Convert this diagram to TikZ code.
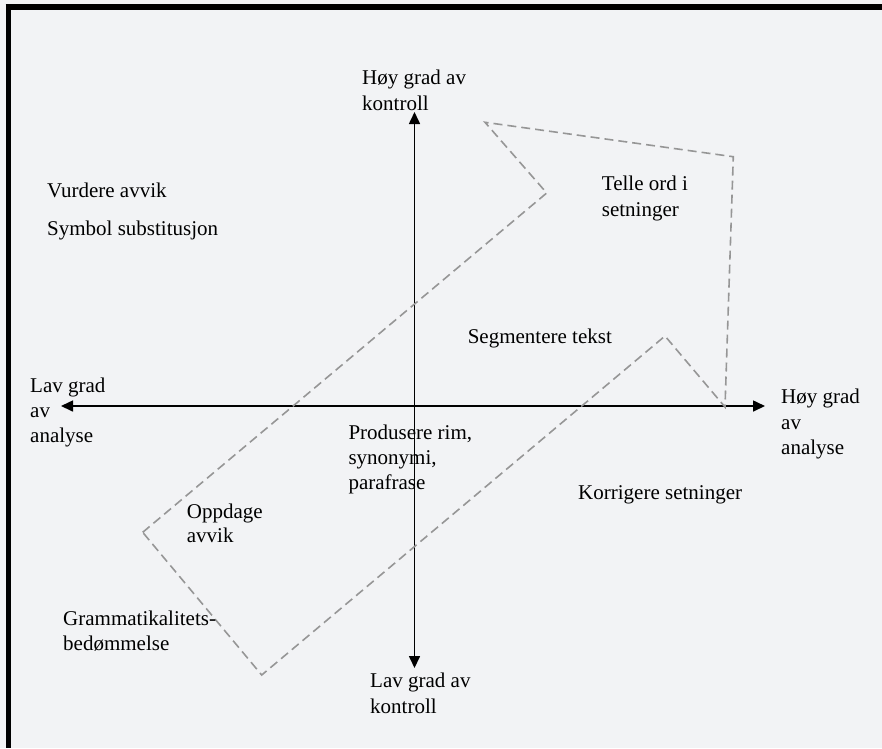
\documentclass[tikz,border=0pt]{standalone}
\usepackage{fontspec}
\setmainfont{Liberation Serif}
\usetikzlibrary{arrows.meta}
\definecolor{bgc}{RGB}{242,243,245}
\definecolor{dashc}{RGB}{150,150,150}
\tikzset{
  lbl/.style={anchor=base west, inner sep=0pt, font=\fontsize{21}{25}\selectfont},
  axisline/.style={line width=1.6pt, {Triangle[length=12pt,width=11pt]}-{Triangle[length=12pt,width=11pt]}},
  dashpoly/.style={draw=dashc, line width=1.6pt, dash pattern=on 9pt off 5pt, line join=miter},
}
\begin{document}
\begin{tikzpicture}[x=1pt,y=-1pt]
\useasboundingbox (0,0) rectangle (882,748);
\fill[bgc] (0,0) rectangle (882,748);
% frame
\draw[line width=6pt] (5.5,7) -- (882,7);
\draw[line width=5pt] (8.5,4) -- (8.5,748);

% axes
\coordinate (vt) at (414.5,112);
\coordinate (vb) at (414.5,668);
\coordinate (hl) at (61,406);
\coordinate (hr) at (765,406);
\draw[axisline] (vb) -- (vt);
\draw[axisline] (hl) -- (hr);

% dashed arrow shape
\coordinate (pA) at (142.7,532.3);
\coordinate (pB) at (546.7,193);
\coordinate (pC) at (485,122.3);
\coordinate (pD) at (733.3,156.7);
\coordinate (pE) at (725,407);
\coordinate (pF) at (665,336);
\coordinate (pG) at (261.7,675);
\draw[dashpoly] (pA) -- (pB) -- (pC) -- (pD) -- (pE) -- (pF) -- (pG) -- cycle;

% axis labels
\node[lbl] (hk1) at (362,84) {Høy grad av};
\node[lbl] (hk2) at (362,110) {kontroll};
\node[lbl] (lk1) at (370,687) {Lav grad av};
\node[lbl] (lk2) at (370,713) {kontroll};
\node[lbl] (la1) at (30,392.7) {Lav grad};
\node[lbl] (la2) at (30,417) {av};
\node[lbl] (la3) at (30,442) {analyse};
\node[lbl] (ha1) at (781,403.3) {Høy grad};
\node[lbl] (ha2) at (781,429) {av};
\node[lbl] (ha3) at (781,454) {analyse};

% task labels
\node[lbl] (vur) at (47,197) {Vurdere avvik};
\node[lbl] (sym) at (47,235) {Symbol substitusjon};
\node[lbl] (tel1) at (601.7,190.7) {Telle ord i};
\node[lbl] (tel2) at (601.7,216) {setninger};
\node[lbl] (seg) at (467.6,343.3) {Segmentere tekst};
\node[lbl] (pro1) at (348.3,439) {Produsere rim,};
\node[lbl] (pro2) at (348.3,464) {synonymi,};
\node[lbl] (pro3) at (348.3,489) {parafrase};
\node[lbl] (kor) at (578,499) {Korrigere setninger};
\node[lbl] (opp1) at (186.7,518) {Oppdage};
\node[lbl] (opp2) at (186.7,542) {avvik};
\node[lbl] (gra1) at (63,625) {Grammatikalitets-};
\node[lbl] (gra2) at (63,650) {bedømmelse};
\end{tikzpicture}
\end{document}
